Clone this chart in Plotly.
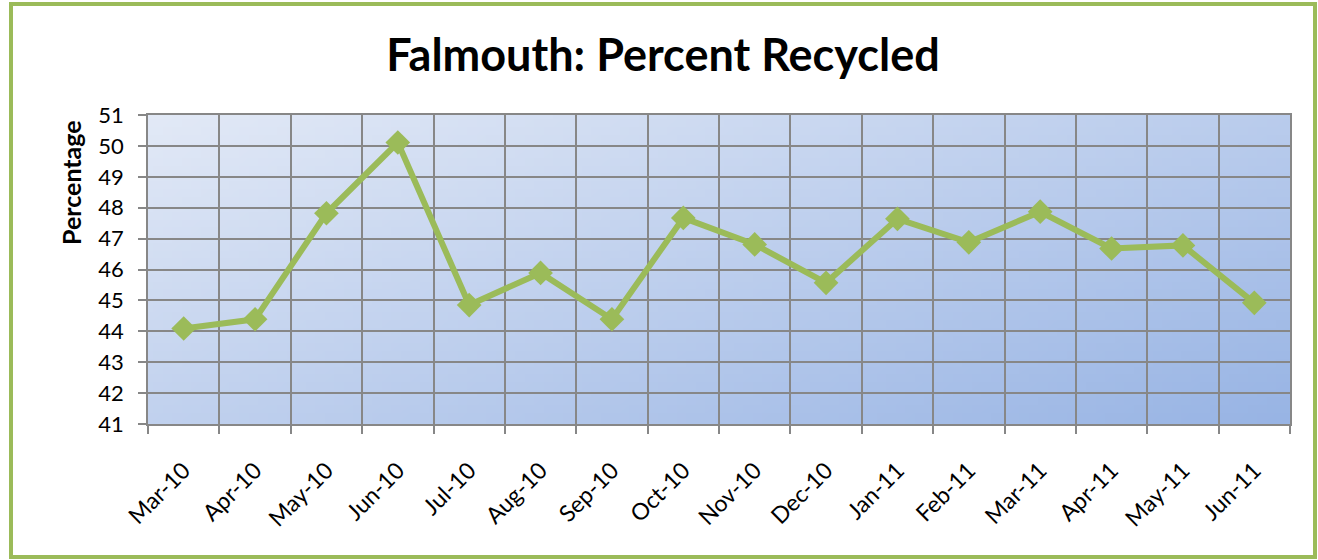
import base64, struct, zlib
import plotly.graph_objects as go

months = ["Mar-10", "Apr-10", "May-10", "Jun-10", "Jul-10", "Aug-10", "Sep-10", "Oct-10",
          "Nov-10", "Dec-10", "Jan-11", "Feb-11", "Mar-11", "Apr-11", "May-11", "Jun-11"]
percent = [44.09, 44.39, 47.82, 50.11, 44.85, 45.89, 44.39, 47.67,
           46.81, 45.57, 47.64, 46.88, 47.87, 46.68, 46.78, 44.92]
y_ticks = list(range(41, 52))

W, H = 1318, 560
L, R, T, B = 148, 1290, 115, 424
PW, PH = R - L, B - T


def px(x):
    return (x - L) / PW


def py(y):
    return (B - y) / PH


def gradient_png(w, h, c0, c1):
    rows = []
    for j in range(h):
        row = bytearray([0])
        for i in range(w):
            t = (i / (w - 1)) * 0.55 + (j / (h - 1)) * 0.45
            row += bytes(int(round(c0[k] + (c1[k] - c0[k]) * t)) for k in range(3))
        rows.append(bytes(row))
    raw = b"".join(rows)

    def chunk(tag, data):
        return struct.pack(">I", len(data)) + tag + data + struct.pack(">I", zlib.crc32(tag + data) & 0xffffffff)

    png = b"\x89PNG\r\n\x1a\n"
    png += chunk(b"IHDR", struct.pack(">IIBBBBB", w, h, 8, 2, 0, 0, 0))
    png += chunk(b"IDAT", zlib.compress(raw, 9))
    png += chunk(b"IEND", b"")
    return "data:image/png;base64," + base64.b64encode(png).decode()


bg = gradient_png(120, 40, (226, 233, 246), (152, 180, 228))

fig = go.Figure()
fig.add_trace(go.Scatter(
    x=months, y=percent, mode="lines+markers",
    line=dict(color="#9BBB59", width=6),
    marker=dict(symbol="diamond", size=19, color="#9BBB59"),
    hoverinfo="x+y", showlegend=False,
))

font = "Lato, 'Open Sans', sans-serif"
fig.update_layout(
    width=W, height=H,
    margin=dict(l=L, r=W - R, t=T, b=H - B, pad=0),
    paper_bgcolor="white",
    plot_bgcolor="rgba(0,0,0,0)",
    font=dict(family=font, size=22, color="black"),
    title=dict(text="<b>Falmouth: Percent Recycled</b>", x=0.503, xanchor="center",
               y=1 - 55 / H, yanchor="middle", font=dict(size=45, family=font, color="black")),
    images=[dict(source=bg, xref="paper", yref="paper", x=0, y=1, sizex=1, sizey=1,
                 xanchor="left", yanchor="top", sizing="stretch", layer="below")],
    shapes=[dict(type="rect", xref="paper", yref="paper",
                 x0=px(11), x1=px(1315), y0=py(557), y1=py(4),
                 line=dict(color="#9BBB59", width=4), fillcolor="rgba(0,0,0,0)", layer="below")],
    annotations=[dict(text="<b>Percentage</b>", textangle=-90, xref="paper", yref="paper",
                      x=px(71), y=py(183), xanchor="center", yanchor="middle",
                      showarrow=False, font=dict(size=25, family=font, color="black"))],
)
fig.update_xaxes(
    type="category", tickson="boundaries", range=[-0.5, len(months) - 0.5],
    showgrid=True, gridcolor="#878787", gridwidth=1.6,
    ticks="outside", ticklen=8, tickcolor="#878787", tickwidth=1.6,
    tickangle=-45, tickfont=dict(size=23, family=font), ticklabelstandoff=22,
    showline=True, linecolor="#878787", linewidth=1.6, mirror=True,
)
fig.update_yaxes(
    range=[41, 51], tickvals=y_ticks, ticktext=[str(v) for v in y_ticks],
    showgrid=True, gridcolor="#878787", gridwidth=1.6, zeroline=False,
    ticks="outside", ticklen=8, tickcolor="#878787", tickwidth=1.6,
    tickfont=dict(size=22, family=font), ticklabelstandoff=10,
    showline=True, linecolor="#878787", linewidth=1.6, mirror=True,
)

fig.write_html("out.html", config={"displayModeBar": False},
               post_script="document.body.style.margin='0';document.body.style.overflow='hidden';")
